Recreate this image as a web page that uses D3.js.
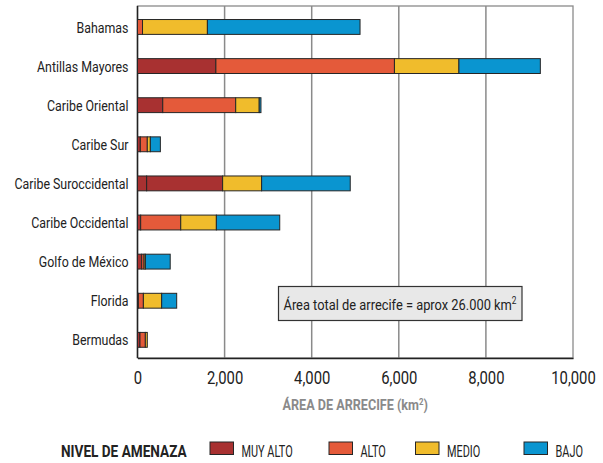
<!DOCTYPE html>
<html>
<head>
<meta charset="utf-8">
<script src="https://cdn.jsdelivr.net/npm/d3@7"></script>
<style>
  body { margin: 0; background: #fff; }
  svg text { font-family: "Roboto", "DejaVu Sans Condensed", sans-serif; }
</style>
</head>
<body>
<div id="chart"></div>
<script>
// Regiones (de arriba a abajo)
const regions = ["Bahamas", "Antillas Mayores", "Caribe Oriental", "Caribe Sur", "Caribe Suroccidental",
  "Caribe Occidental", "Golfo de México", "Florida", "Bermudas"];

// Área de arrecife por nivel de amenaza (km2)
const muyAlto = [0, 1800, 580, 65, 210, 73, 96, 20, 57];
const alto    = [115, 4100, 1675, 160, 1745, 920, 55, 115, 123];
const medio   = [1490, 1480, 540, 70, 895, 818, 30, 420, 45];
const bajo    = [3505, 1870, 40, 230, 2035, 1455, 570, 345, 0];

// En el original, el segmento "alto" de esta región aparece en rojo oscuro
const altoDrawnDark = ["Caribe Suroccidental"];

const levels = ["muyAlto", "alto", "medio", "bajo"];
const levelLabels = ["MUY ALTO", "ALTO", "MEDIO", "BAJO"];
const colors = ["#a83131", "#e45a3a", "#f0bc2c", "#0a95d0"];

const xTicks = [0, 2000, 4000, 6000, 8000, 10000];

const data = regions.map((r, i) => ({region: r, muyAlto: muyAlto[i], alto: alto[i], medio: medio[i], bajo: bajo[i]}));

// Dimensiones
const width = 603;
const height = 463;
const marginLeft = 137.5;
const marginRight = 30;
const marginTop = 6;
const plotBottom = 358;

const x = d3.scaleLinear([0, 10000], [marginLeft, width - marginRight]);
const y = d3.scaleBand(regions, [7.4, 359.4]).paddingInner(0.62).paddingOuter(0.31);

const color = d3.scaleOrdinal(levels, colors);

const series = d3.stack().keys(levels)(data);

// Texto condensado (la fuente original es estrecha)
function condense(sel, k) {
  sel.each(function() {
    const t = d3.select(this);
    const tx = +t.attr("x") || 0, ty = +t.attr("y") || 0;
    t.attr("x", 0).attr("y", 0).attr("transform", `translate(${tx},${ty}) scale(${k},1)`);
  });
}

const svg = d3.create("svg")
    .attr("width", width)
    .attr("height", height)
    .attr("viewBox", [0, 0, width, height]);

// Marco
svg.append("rect")
    .attr("x", marginLeft)
    .attr("y", marginTop)
    .attr("width", x(10000) - marginLeft)
    .attr("height", plotBottom - marginTop)
    .attr("fill", "none")
    .attr("stroke", "#8a8a8a")
    .attr("stroke-width", 1.3);

// Líneas de cuadrícula
svg.append("g")
    .selectAll("line")
    .data(xTicks.slice(1, -1))
    .join("line")
      .attr("x1", d => x(d))
      .attr("x2", d => x(d))
      .attr("y1", marginTop)
      .attr("y2", plotBottom)
      .attr("stroke", "#8a8a8a")
      .attr("stroke-width", 1.5);

// Eje izquierdo
svg.append("line")
    .attr("x1", marginLeft).attr("x2", marginLeft)
    .attr("y1", marginTop).attr("y2", plotBottom)
    .attr("stroke", "#222")
    .attr("stroke-width", 1.5);

// Barras apiladas
svg.append("g")
    .selectAll("g")
    .data(series)
    .join("g")
    .selectAll("rect")
    .data(D => D.map(d => (d.key = D.key, d)))
    .join("rect")
      .attr("x", d => x(d[0]))
      .attr("y", d => y(d.data.region))
      .attr("width", d => x(d[1]) - x(d[0]))
      .attr("height", y.bandwidth())
      .attr("fill", d => d.key === "alto" && altoDrawnDark.includes(d.data.region) ? color("muyAlto") : color(d.key))
      .attr("stroke", "#262626")
      .attr("stroke-width", 1)
      .attr("display", d => d[1] - d[0] > 0 ? null : "none");

// Etiquetas de regiones
svg.append("g")
    .selectAll("text")
    .data(regions)
    .join("text")
      .attr("x", 128.5)
      .attr("y", d => y(d) + y.bandwidth() / 2)
      .attr("dy", "0.36em")
      .attr("text-anchor", "end")
      .attr("font-size", 15.5)
      .attr("fill", "#222")
      .text(d => d)
      .call(condense, 0.8);

// Eje x
const xAxis = svg.append("g")
    .attr("transform", `translate(0,${plotBottom})`)
    .call(d3.axisBottom(x).tickValues(xTicks).tickSize(0).tickPadding(13).tickFormat(d3.format(",")));
xAxis.select(".domain").attr("stroke", "#222").attr("stroke-width", 1.3);
xAxis.selectAll("text")
    .attr("font-size", 19)
    .attr("fill", "#222")
    .attr("font-family", null)
    .attr("transform", "scale(0.78,1)")
    .attr("x", 0);

// Título del eje
const title = svg.append("text")
    .attr("x", x(5000))
    .attr("y", 410)
    .attr("text-anchor", "middle")
    .attr("font-size", 14.5)
    .attr("font-weight", "bold")
    .attr("fill", "#8a8a8a");
title.append("tspan").text("ÁREA DE ARRECIFE (km");
title.append("tspan").attr("font-size", 9).attr("dy", -5).text("2");
title.append("tspan").attr("dy", 5).text(")");
title.call(condense, 0.87);

// Nota del área total
const note = svg.append("g");
note.append("rect")
    .attr("x", 278.5)
    .attr("y", 286.5)
    .attr("width", 243.5)
    .attr("height", 34)
    .attr("fill", "#e8e8e8")
    .attr("stroke", "#333")
    .attr("stroke-width", 1.2);
const noteText = note.append("text")
    .attr("x", 400)
    .attr("y", 309.5)
    .attr("text-anchor", "middle")
    .attr("font-size", 15.5)
    .attr("fill", "#222");
noteText.append("tspan").text("Área total de arrecife = aprox 26.000 km");
noteText.append("tspan").attr("font-size", 10).attr("dy", -6).text("2");
noteText.call(condense, 0.83);

// Leyenda
const legend = svg.append("g");
legend.append("text")
    .attr("x", 61)
    .attr("y", 456.5)
    .attr("font-size", 17)
    .attr("font-weight", "bold")
    .attr("fill", "#222")
    .text("NIVEL DE AMENAZA")
    .call(condense, 0.8);

const legendX = [210, 329, 415.5, 524];
const item = legend.selectAll("g")
    .data(levels)
    .join("g")
      .attr("transform", (d, i) => `translate(${legendX[i]},442)`);
item.append("rect")
    .attr("width", 23.5)
    .attr("height", 12.5)
    .attr("fill", d => color(d))
    .attr("stroke", "#262626")
    .attr("stroke-width", 1);
item.append("text")
    .attr("x", 31.5)
    .attr("y", 14.5)
    .attr("font-size", 16.5)
    .attr("fill", "#222")
    .text((d, i) => levelLabels[i])
    .call(condense, 0.66);

document.getElementById("chart").appendChild(svg.node());
</script>
</body>
</html>
